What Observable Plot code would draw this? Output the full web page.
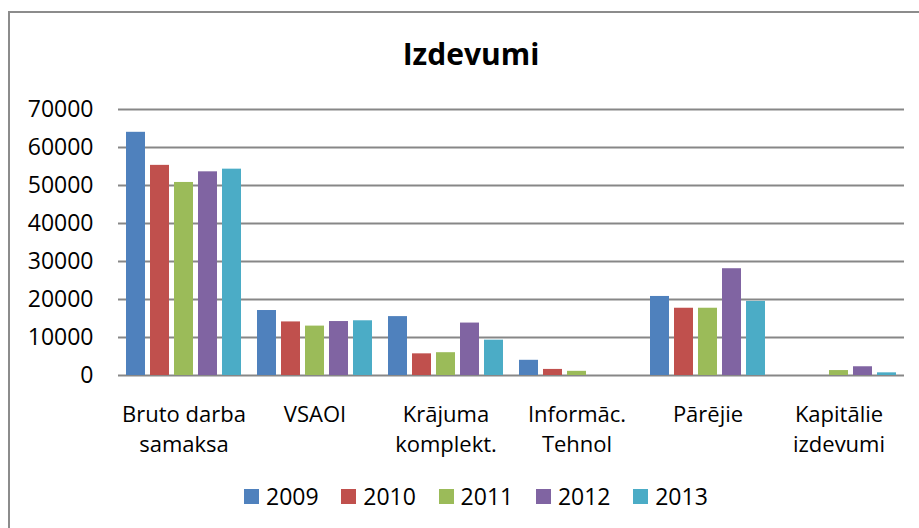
<!DOCTYPE html>
<html>
<head>
<meta charset="utf-8">
<script src="https://cdn.jsdelivr.net/npm/d3@7"></script>
<script src="https://cdn.jsdelivr.net/npm/@observablehq/plot@0.6"></script>
<style>
  html, body { margin: 0; padding: 0; }
  body { width: 919px; height: 528px; overflow: hidden; background: #fff; position: relative; font-family: "Open Sans", sans-serif; color: #000; }
  #frame { position: absolute; left: 8px; top: 11px; width: 1000px; height: 600px; border: 2px solid #8c8c8c; box-sizing: border-box; }
  #chart { position: absolute; left: 0; top: 0; }
  #title { position: absolute; left: 0; top: 39px; width: 942px; text-align: center; font-weight: bold; font-size: 30px; line-height: 30px; }
  #legend { position: absolute; left: 244px; top: 485px; display: flex; font-size: 23px; line-height: 22px; }
  #legend .item { display: flex; align-items: center; gap: 7px; width: 97.3px; }
  #legend .sw { width: 15px; height: 15px; display: inline-block; }
</style>
</head>
<body>
<div id="frame"></div>
<div id="chart"></div>
<div id="title">Izdevumi</div>
<div id="legend"></div>
<script>
const categories = ["Bruto darba\nsamaksa", "VSAOI", "Krājuma\nkomplekt.", "Informāc.\nTehnol", "Pārējie", "Kapitālie\nizdevumi"];
const years = ["2009", "2010", "2011", "2012", "2013"];
const colors = ["#4F81BD", "#C0504D", "#9BBB59", "#8064A2", "#4BACC6"];
const v2009 = [64000, 17100, 15500, 4000, 20800, 0];
const v2010 = [55300, 14100, 5700, 1600, 17700, 0];
const v2011 = [50800, 13000, 6000, 1100, 17700, 1300];
const v2012 = [53600, 14200, 13800, 0, 28100, 2300];
const v2013 = [54300, 14400, 9300, 0, 19500, 700];
const yTicks = [0, 10000, 20000, 30000, 40000, 50000, 60000, 70000];

const series = [v2009, v2010, v2011, v2012, v2013];
const data = [];
categories.forEach((c, i) => {
  years.forEach((y, j) => {
    if (series[j][i] > 0) data.push({category: c, year: y, value: series[j][i]});
  });
});

const chart = Plot.plot({
  width: 919,
  height: 470,
  marginTop: 109,
  marginBottom: 95,
  marginLeft: 117,
  marginRight: 15,
  style: {fontFamily: "Open Sans", fontSize: "22px", color: "#000", background: "transparent"},
  fx: {domain: categories, padding: 0, label: null},
  x: {domain: years, paddingInner: 0.2, paddingOuter: 0.3, axis: null},
  y: {domain: [0, 70000], axis: null},
  color: {domain: years, range: colors},
  marks: [
    Plot.gridY(yTicks, {stroke: "#878787", strokeOpacity: 1, strokeWidth: 2}),
    Plot.barY(data, {fx: "category", x: "year", y: "value", fill: "year"}),
    Plot.axisY(yTicks, {tickSize: 0, tickPadding: 25, tickFormat: d => String(d), fontSize: 23, label: null}),
    Plot.axisFx({anchor: "bottom", tickSize: 0, tickPadding: 25, lineHeight: 1.36, fontSize: 22, label: null})
  ]
});
document.getElementById("chart").appendChild(chart);

const legend = document.getElementById("legend");
years.forEach((y, j) => {
  const item = document.createElement("div");
  item.className = "item";
  const sw = document.createElement("span");
  sw.className = "sw";
  sw.style.background = colors[j];
  const t = document.createElement("span");
  t.textContent = y;
  item.appendChild(sw);
  item.appendChild(t);
  legend.appendChild(item);
});
</script>
</body>
</html>
